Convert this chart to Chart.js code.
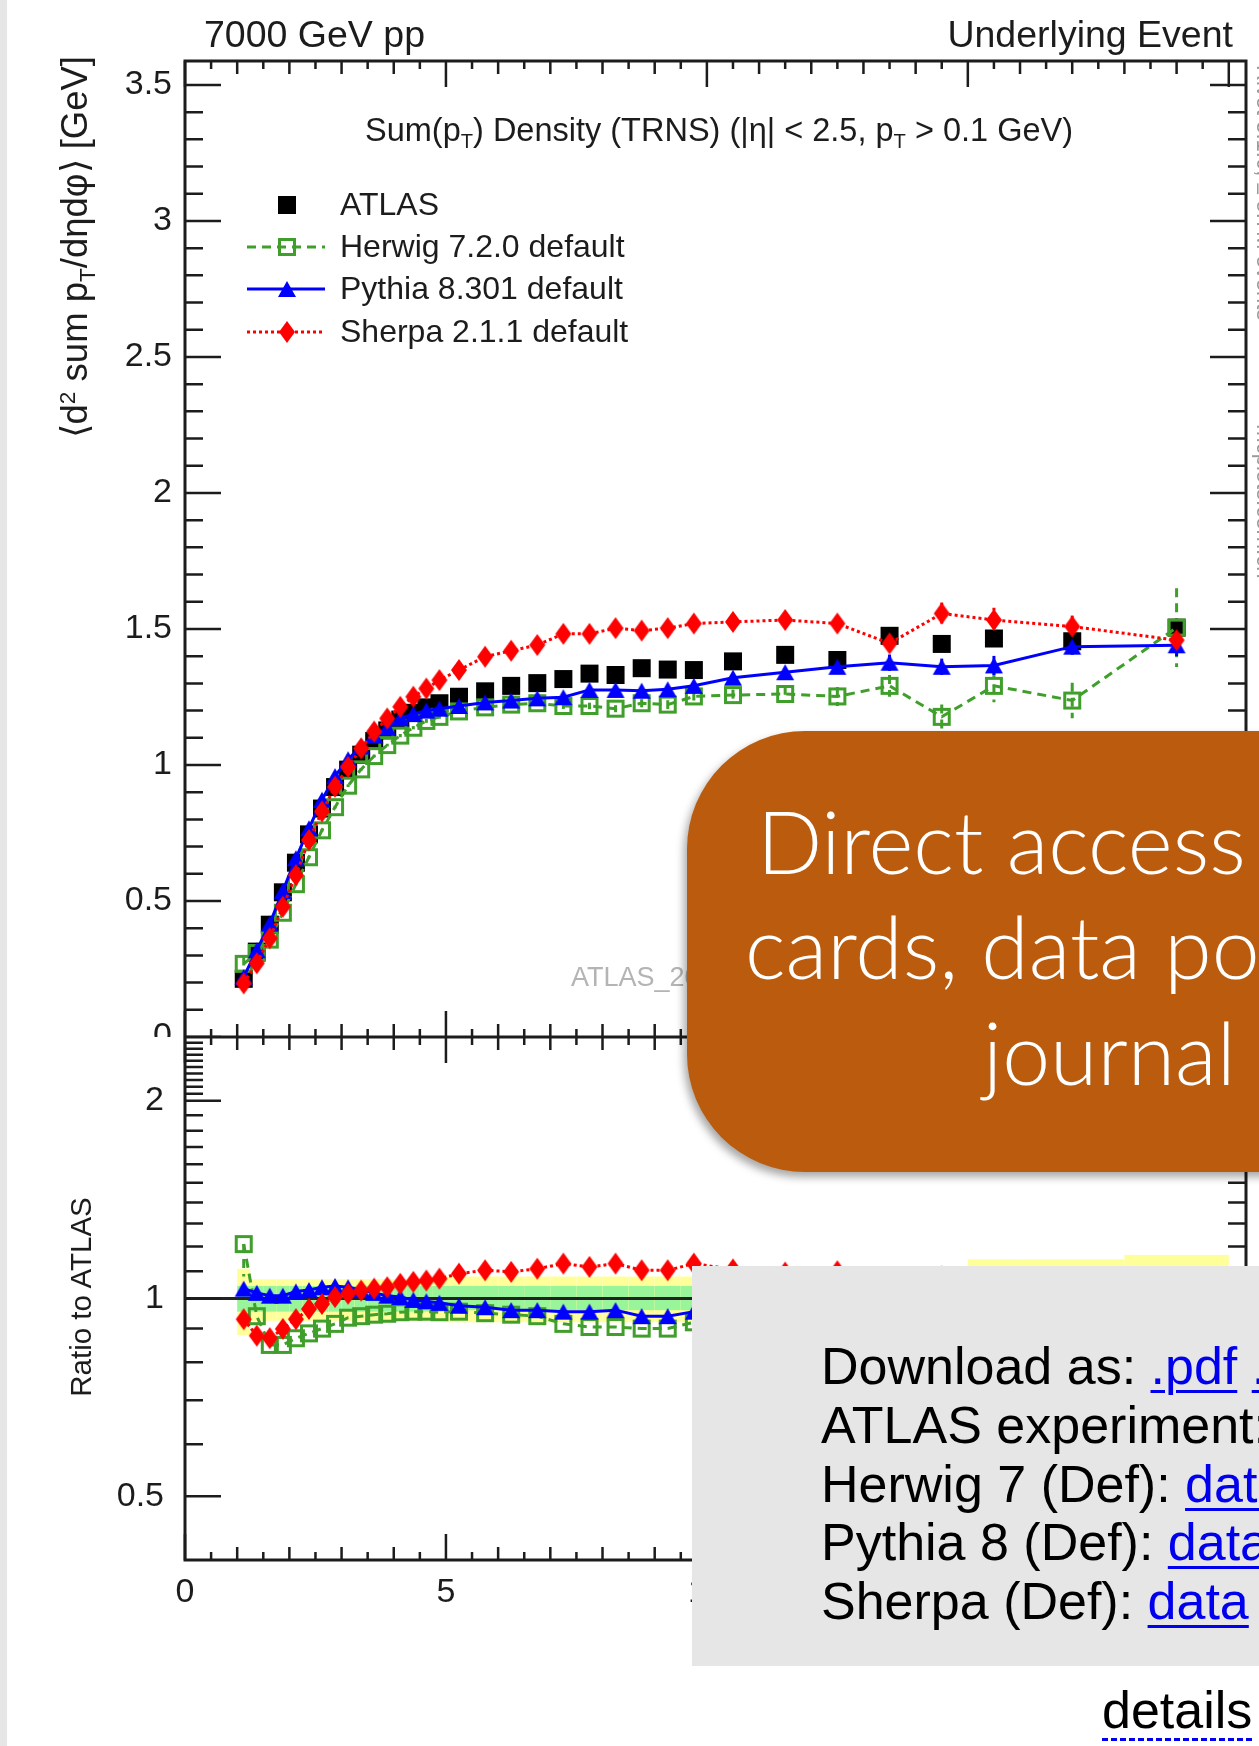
<!DOCTYPE html>
<html>
<head>
<meta charset="utf-8">
<script src="https://cdn.jsdelivr.net/npm/chart.js@4.4.1/dist/chart.umd.min.js"></script>
<style>
  html, body { margin:0; padding:0; background:#fff; }
  body { width:1259px; height:1746px; overflow:hidden; position:relative; font-family:'Liberation Sans', Arial, sans-serif; }
  canvas { position:absolute; left:0; }
  #mainCanvas { top:0; }
  #ratioCanvas { top:1037px; }
  .txt { position:absolute; white-space:nowrap; line-height:1; color:#1c1c1c; }
  .sub { font-size:0.62em; vertical-align:-0.35em; line-height:0; }
  .sup { font-size:0.62em; vertical-align:0.55em; line-height:0; }
  #strip { position:absolute; left:0; top:0; width:7px; height:1746px; background:#e6e6e6; }
  #orange { position:absolute; left:687px; top:731px; width:800px; height:441px; background:#bb5b0d; border-radius:118px; box-shadow:-3px 5px 9px rgba(0,0,0,0.35); }
  .big { position:absolute; white-space:nowrap; color:#fff; font-family:Lato, 'Open Sans', sans-serif; font-weight:300; font-size:86px; line-height:1; }
  #grey { position:absolute; left:692px; top:1266px; width:700px; height:400px; background:#e6e6e6; }
  .dl { position:absolute; left:821px; white-space:nowrap; font-size:52px; line-height:1; color:#000; }
  .dl a { color:#0000ee; text-decoration:underline; text-decoration-thickness:3px; text-underline-offset:6px; }
  #details { position:absolute; left:1102px; top:1684px; font-size:52px; line-height:1; color:#000; white-space:nowrap; border-bottom:3px dashed #0000ee; padding-bottom:2px; }
</style>
</head>
<body>
<div id="strip"></div>
<canvas id="mainCanvas" width="1259" height="1037" style="width:1259px;height:1037px"></canvas>
<canvas id="ratioCanvas" width="1259" height="709" style="width:1259px;height:709px"></canvas>

<div class="txt" style="left:204px;top:16px;font-size:37.5px">7000 GeV pp</div>
<div class="txt" style="right:26px;top:16px;font-size:37.5px">Underlying Event</div>
<div class="txt" style="left:719px;top:114px;font-size:32.5px;transform:translateX(-50%)">Sum(p<span class="sub">T</span>) Density (TRNS) (|η| &lt; 2.5, p<span class="sub">T</span> &gt; 0.1 GeV)</div>
<div class="txt" style="left:57px;top:476px;width:420px;text-align:right;font-size:36.5px;transform-origin:0 0;transform:rotate(-90deg)">⟨d<span class="sup">2</span> sum p<span class="sub">T</span>/dηdφ⟩ [GeV]</div>
<div class="txt" style="left:66px;top:1497px;width:400px;text-align:center;font-size:29.5px;transform-origin:0 0;transform:rotate(-90deg)">Ratio to ATLAS</div>
<div class="txt" style="left:571px;top:964px;font-size:27px;color:#b4b4b4">ATLAS_2010_S8894728</div>
<div class="txt" style="left:1275px;top:65px;font-size:22px;color:#9a9a9a;transform-origin:0 0;transform:rotate(90deg)">Rivet 3.1.0, ≥ 5.7M events &nbsp; &nbsp; &nbsp; &nbsp; &nbsp; &nbsp; &nbsp; &nbsp; mcplots.cern.ch</div>

<div id="orange"></div>
<div class="big" style="left:757px;top:798px">Direct access to run</div>
<div class="big" style="left:745px;top:903px">cards, data points and</div>
<div class="big" style="left:983px;top:1009px">journal links</div>

<div id="grey"></div>
<div class="dl" style="top:1340px">Download as: <a href="#">.pdf</a> <a href="#">.png</a></div>
<div class="dl" style="top:1399px">ATLAS experiment: <a href="#">data</a></div>
<div class="dl" style="top:1458px">Herwig 7 (Def): <a href="#">data</a></div>
<div class="dl" style="top:1516px">Pythia 8 (Def): <a href="#">data</a></div>
<div class="dl" style="top:1575px">Sherpa (Def): <a href="#">data</a></div>
<div id="details">details</div>

<script>
// bins in leading track pT [GeV]
const xCenters = [1.125, 1.375, 1.625, 1.875, 2.125, 2.375, 2.625, 2.875, 3.125, 3.375, 3.625, 3.875, 4.125, 4.375, 4.625, 4.875,
  5.25, 5.75, 6.25, 6.75, 7.25, 7.75, 8.25, 8.75, 9.25, 9.75, 10.5, 11.5, 12.5, 13.5, 14.5, 15.5, 17, 19];
const xEdges = [1, 1.25, 1.5, 1.75, 2, 2.25, 2.5, 2.75, 3, 3.25, 3.5, 3.75, 4, 4.25, 4.5, 4.75, 5,
  5.5, 6, 6.5, 7, 7.5, 8, 8.5, 9, 9.5, 10, 11, 12, 13, 14, 15, 16, 18, 20];

const atlas = [0.214, 0.314, 0.413, 0.532, 0.641, 0.745, 0.84, 0.919, 0.983, 1.038, 1.088, 1.127, 1.167, 1.192, 1.212, 1.227,
  1.251, 1.271, 1.291, 1.301, 1.316, 1.336, 1.331, 1.356, 1.351, 1.349, 1.381, 1.405, 1.386, 1.475, 1.445, 1.465, 1.455, 1.505];
const herwig = [0.269, 0.309, 0.358, 0.457, 0.562, 0.661, 0.76, 0.845, 0.924, 0.984, 1.033, 1.073, 1.108, 1.137, 1.162, 1.177,
  1.197, 1.212, 1.222, 1.227, 1.217, 1.217, 1.207, 1.227, 1.222, 1.252, 1.257, 1.261, 1.252, 1.291, 1.177, 1.291, 1.237, 1.505];
const pythia = [0.221, 0.319, 0.417, 0.537, 0.657, 0.767, 0.872, 0.959, 1.021, 1.068, 1.108, 1.137, 1.172, 1.187, 1.2, 1.207,
  1.217, 1.23, 1.237, 1.245, 1.249, 1.276, 1.276, 1.273, 1.278, 1.291, 1.321, 1.341, 1.361, 1.376, 1.361, 1.366, 1.435, 1.44];
const sherpa = [0.197, 0.271, 0.363, 0.479, 0.595, 0.724, 0.829, 0.92, 0.993, 1.061, 1.123, 1.171, 1.214, 1.251, 1.281, 1.312,
  1.349, 1.398, 1.42, 1.441, 1.482, 1.482, 1.503, 1.494, 1.503, 1.52, 1.526, 1.533, 1.52, 1.447, 1.557, 1.533, 1.509, 1.459];

const herwigErr = [0.027, 0.005, 0.005, 0.005, 0.005, 0.005, 0.005, 0.005, 0.005, 0.005, 0.005, 0.005, 0.006, 0.006, 0.007, 0.007,
  0.008, 0.008, 0.009, 0.01, 0.011, 0.012, 0.013, 0.015, 0.016, 0.018, 0.02, 0.03, 0.035, 0.04, 0.045, 0.06, 0.065, 0.145];
const pythiaErr = [0, 0, 0, 0, 0, 0, 0, 0, 0, 0, 0, 0, 0, 0, 0, 0,
  0.004, 0.004, 0.005, 0.005, 0.006, 0.006, 0.007, 0.008, 0.009, 0.01, 0.01, 0.015, 0.02, 0.03, 0.03, 0.035, 0.03, 0.04];
const sherpaErr = [0, 0, 0, 0, 0, 0, 0, 0, 0, 0, 0, 0, 0, 0, 0, 0,
  0.004, 0.004, 0.005, 0.005, 0.006, 0.006, 0.007, 0.008, 0.009, 0.01, 0.015, 0.02, 0.025, 0.03, 0.04, 0.045, 0.04, 0.045];

// ratio to ATLAS
const herwigRatio = [1.21, 0.94, 0.85, 0.85, 0.87, 0.885, 0.9, 0.915, 0.935, 0.94, 0.945, 0.948, 0.953, 0.955, 0.955, 0.953,
  0.955, 0.95, 0.945, 0.94, 0.915, 0.905, 0.905, 0.9, 0.9, 0.92, 0.905, 0.895, 0.9, 0.875, 0.81, 0.88, 0.85, 1.0];
const pythiaRatio = [1.035, 1.02, 1.01, 1.01, 1.025, 1.03, 1.04, 1.045, 1.04, 1.03, 1.02, 1.01, 1.005, 0.995, 0.99, 0.985,
  0.975, 0.97, 0.96, 0.96, 0.955, 0.955, 0.96, 0.94, 0.94, 0.955, 0.955, 0.955, 0.98, 0.93, 0.94, 0.93, 0.985, 0.955];
const sherpaRatio = [0.93, 0.878, 0.87, 0.899, 0.93, 0.964, 0.981, 1.005, 1.017, 1.028, 1.035, 1.04, 1.053, 1.06, 1.065, 1.072,
  1.091, 1.104, 1.098, 1.11, 1.13, 1.117, 1.13, 1.104, 1.104, 1.13, 1.107, 1.095, 1.1, 0.98, 1.08, 1.05, 1.035, 0.97];
const herwigRatioErrLo = [0.13, 0, 0, 0, 0, 0, 0, 0, 0, 0, 0, 0, 0, 0, 0, 0,
  0, 0, 0, 0, 0, 0, 0, 0, 0, 0, 0.015, 0.02, 0.025, 0.03, 0.03, 0.04, 0.045, 0.1];
const herwigRatioErrHi = [0, 0, 0, 0, 0, 0, 0, 0, 0, 0, 0, 0, 0, 0, 0, 0,
  0, 0, 0, 0, 0, 0, 0, 0, 0, 0, 0.015, 0.02, 0.025, 0.03, 0.03, 0.04, 0.045, 0.1];

// data uncertainty bands in the ratio (total = yellow, stat = green)
const totLo = [0.88, 0.925, 0.925, 0.925, 0.925, 0.925, 0.925, 0.925, 0.925, 0.925, 0.925, 0.925, 0.925, 0.925, 0.925, 0.925,
  0.92, 0.92, 0.92, 0.92, 0.92, 0.92, 0.92, 0.92, 0.92, 0.92, 0.9, 0.9, 0.9, 0.9, 0.9, 0.87, 0.87, 0.86];
const totHi = [1.11, 1.07, 1.07, 1.07, 1.07, 1.07, 1.07, 1.07, 1.07, 1.07, 1.07, 1.07, 1.07, 1.07, 1.07, 1.07,
  1.08, 1.08, 1.08, 1.08, 1.08, 1.08, 1.08, 1.08, 1.08, 1.08, 1.1, 1.1, 1.1, 1.1, 1.1, 1.147, 1.147, 1.165];
const statLo = [0.955, 0.955, 0.955, 0.955, 0.955, 0.955, 0.955, 0.955, 0.955, 0.955, 0.955, 0.955, 0.955, 0.955, 0.955, 0.955,
  0.96, 0.96, 0.96, 0.96, 0.96, 0.96, 0.96, 0.96, 0.96, 0.96, 0.95, 0.95, 0.95, 0.94, 0.94, 0.93, 0.93, 0.92];
const statHi = [1.045, 1.045, 1.045, 1.045, 1.045, 1.045, 1.045, 1.045, 1.045, 1.045, 1.045, 1.045, 1.045, 1.045, 1.045, 1.045,
  1.045, 1.045, 1.045, 1.045, 1.045, 1.045, 1.045, 1.045, 1.045, 1.045, 1.05, 1.05, 1.05, 1.06, 1.06, 1.07, 1.07, 1.08];

const mainYTicks = [0, 0.5, 1, 1.5, 2, 2.5, 3, 3.5];
const ratioYTicks = [0.5, 1, 2];
const xTickLabels = [0, 5, 10, 15, 20];

const GREEN = '#3f9f2a', BLUE = '#0000ff', RED = '#ff0000';

Chart.defaults.font.family = "'Liberation Sans', Arial, sans-serif";
Chart.defaults.color = '#1c1c1c';

function marker(kind, color) {
  const c = document.createElement('canvas');
  c.width = 26; c.height = 26;
  const g = c.getContext('2d');
  g.fillStyle = color; g.strokeStyle = color;
  if (kind === 'square') g.fillRect(4, 4, 18, 18);
  if (kind === 'open') { g.lineWidth = 3; g.strokeRect(5.5, 5.5, 15, 15); }
  if (kind === 'tri') { g.beginPath(); g.moveTo(13, 5); g.lineTo(22, 21); g.lineTo(4, 21); g.closePath(); g.fill(); }
  if (kind === 'diamond') { g.beginPath(); g.moveTo(13, 2); g.lineTo(21, 13); g.lineTo(13, 24); g.lineTo(5, 13); g.closePath(); g.fill(); }
  return c;
}
const mkAtlas = marker('square', '#000');
const mkHerwig = marker('open', GREEN);
const mkPythia = marker('tri', BLUE);
const mkSherpa = marker('diamond', RED);

const pts = arr => xCenters.map((x, i) => ({ x: x, y: arr[i] }));

// fixed axis box, no label overhang padding
function fixBox(w, h) {
  return s => {
    if (w !== null) s.width = w;
    if (h !== null) s.height = h;
    s.paddingTop = 0; s.paddingBottom = 0; s.paddingLeft = 0; s.paddingRight = 0;
  };
}

function frame(yMajor, yMinor) {
  return {
    id: 'frame',
    afterDraw(chart) {
      const { ctx, chartArea: a } = chart;
      const xs = chart.scales.x, ys = chart.scales.y;
      ctx.save();
      ctx.strokeStyle = '#1c1c1c';
      ctx.lineWidth = 2.5;
      ctx.beginPath();
      for (let k = 0; k <= 40; k++) {
        const len = k % 10 === 0 ? 26 : (k % 2 === 0 ? 13 : 8);
        const px = xs.getPixelForValue(k / 2);
        ctx.moveTo(px, a.top); ctx.lineTo(px, a.top + len);
        ctx.moveTo(px, a.bottom); ctx.lineTo(px, a.bottom - len);
      }
      const yt = (v, len) => {
        const py = ys.getPixelForValue(v);
        ctx.moveTo(a.left, py); ctx.lineTo(a.left + len, py);
        ctx.moveTo(a.right, py); ctx.lineTo(a.right - len, py);
      };
      yMajor.forEach(v => yt(v, 36));
      yMinor.forEach(v => yt(v, 18));
      ctx.stroke();
      ctx.lineWidth = 3;
      ctx.strokeRect(a.left, a.top, a.right - a.left, a.bottom - a.top);
      ctx.restore();
    }
  };
}

const errorBars = {
  id: 'errorBars',
  beforeDatasetsDraw(chart) {
    const { ctx, chartArea: a } = chart;
    const xs = chart.scales.x, ys = chart.scales.y;
    ctx.save();
    ctx.beginPath(); ctx.rect(a.left, a.top, a.right - a.left, a.bottom - a.top); ctx.clip();
    chart.data.datasets.forEach(ds => {
      if (!ds.errLo) return;
      ctx.strokeStyle = ds.borderColor;
      ctx.lineWidth = 3;
      ctx.setLineDash(ds.borderDash || []);
      ds.data.forEach((p, i) => {
        const lo = ds.errLo[i], hi = ds.errHi[i];
        if (!lo && !hi) return;
        const px = xs.getPixelForValue(p.x);
        ctx.beginPath();
        ctx.moveTo(px, ys.getPixelForValue(p.y + hi));
        ctx.lineTo(px, ys.getPixelForValue(p.y - lo));
        ctx.stroke();
      });
    });
    ctx.restore();
  }
};

const legendBox = {
  id: 'legendBox',
  afterDatasetsDraw(chart) {
    const ctx = chart.ctx;
    const rows = [205, 247, 289, 332];
    ctx.save();
    ctx.font = "32px 'Liberation Sans'";
    ctx.fillStyle = '#1c1c1c';
    ctx.textBaseline = 'middle';
    chart.data.datasets.forEach((ds, r) => {
      const y = rows[r];
      if (ds.showLine !== false) {
        ctx.strokeStyle = ds.borderColor; ctx.lineWidth = 3; ctx.setLineDash(ds.borderDash || []);
        ctx.beginPath(); ctx.moveTo(247, y); ctx.lineTo(325, y); ctx.stroke();
        ctx.setLineDash([]);
      }
      const m = ds.pointStyle;
      ctx.drawImage(m, 287 - m.width / 2, y - m.height / 2);
      ctx.fillText(ds.label, 340, y + 1);
    });
    ctx.restore();
  }
};

const bands = {
  id: 'bands',
  beforeDatasetsDraw(chart) {
    const { ctx, chartArea: a } = chart;
    const xs = chart.scales.x, ys = chart.scales.y;
    ctx.save();
    ctx.beginPath(); ctx.rect(a.left, a.top, a.right - a.left, a.bottom - a.top); ctx.clip();
    for (let i = 0; i < xCenters.length; i++) {
      const x1 = xs.getPixelForValue(xEdges[i]), x2 = xs.getPixelForValue(xEdges[i + 1]);
      ctx.fillStyle = '#ffff99';
      const t1 = ys.getPixelForValue(totHi[i]), t2 = ys.getPixelForValue(totLo[i]);
      ctx.fillRect(x1, t1, x2 - x1, t2 - t1);
      ctx.fillStyle = '#99f599';
      const s1 = ys.getPixelForValue(statHi[i]), s2 = ys.getPixelForValue(statLo[i]);
      ctx.fillRect(x1, s1, x2 - x1, s2 - s1);
    }
    const p1 = ys.getPixelForValue(1);
    ctx.strokeStyle = '#222'; ctx.lineWidth = 3;
    ctx.beginPath(); ctx.moveTo(a.left, p1); ctx.lineTo(a.right, p1); ctx.stroke();
    ctx.restore();
  }
};

const mainMinor = [];
for (let k = 1; k <= 35; k++) if (k % 5 !== 0) mainMinor.push(k / 10);
const ratioMinor = [0.6, 0.7, 0.8, 0.9, 1.1, 1.2, 1.3, 1.4, 1.5, 1.6, 1.7, 1.8, 1.9,
  2.05, 2.1, 2.15, 2.2, 2.25, 2.3, 2.35, 2.4, 2.45];

new Chart(document.getElementById('mainCanvas').getContext('2d'), {
  type: 'line',
  data: {
    datasets: [
      { label: 'ATLAS', data: pts(atlas), showLine: false, borderColor: '#000', pointStyle: mkAtlas, pointRadius: 9, order: 3 },
      { label: 'Herwig 7.2.0 default', data: pts(herwig), borderColor: GREEN, borderWidth: 3, borderDash: [9, 6],
        pointStyle: mkHerwig, pointRadius: 9, fill: false, tension: 0, order: 2, errLo: herwigErr, errHi: herwigErr },
      { label: 'Pythia 8.301 default', data: pts(pythia), borderColor: BLUE, borderWidth: 3,
        pointStyle: mkPythia, pointRadius: 9, fill: false, tension: 0, order: 1, errLo: pythiaErr, errHi: pythiaErr },
      { label: 'Sherpa 2.1.1 default', data: pts(sherpa), borderColor: RED, borderWidth: 3, borderDash: [3, 3],
        pointStyle: mkSherpa, pointRadius: 9, fill: false, tension: 0, order: 0, errLo: sherpaErr, errHi: sherpaErr }
    ]
  },
  options: {
    responsive: false,
    animation: false,
    events: [],
    layout: { autoPadding: false, padding: { left: 0, top: 61, right: 13, bottom: 0 } },
    plugins: { legend: { display: false }, tooltip: { enabled: false } },
    scales: {
      x: { type: 'linear', min: 0, max: 20.33, display: false, afterFit: fixBox(null, 0) },
      y: {
        type: 'linear', min: 0, max: 3.588,
        afterFit: fixBox(185, null),
        afterBuildTicks: s => { s.ticks = mainYTicks.map(v => ({ value: v })); },
        grid: { display: false, drawTicks: false },
        border: { display: false },
        ticks: { autoSkip: false, padding: 13, font: { size: 34 }, color: '#1c1c1c', callback: v => String(v) }
      }
    }
  },
  plugins: [errorBars, legendBox, frame(mainYTicks, mainMinor)]
});

new Chart(document.getElementById('ratioCanvas').getContext('2d'), {
  type: 'line',
  data: {
    datasets: [
      { label: 'Herwig 7.2.0 default', data: pts(herwigRatio), borderColor: GREEN, borderWidth: 3, borderDash: [9, 6],
        pointStyle: mkHerwig, pointRadius: 9, fill: false, tension: 0, order: 2, errLo: herwigRatioErrLo, errHi: herwigRatioErrHi },
      { label: 'Pythia 8.301 default', data: pts(pythiaRatio), borderColor: BLUE, borderWidth: 3,
        pointStyle: mkPythia, pointRadius: 9, fill: false, tension: 0, order: 1 },
      { label: 'Sherpa 2.1.1 default', data: pts(sherpaRatio), borderColor: RED, borderWidth: 3, borderDash: [3, 3],
        pointStyle: mkSherpa, pointRadius: 9, fill: false, tension: 0, order: 0 }
    ]
  },
  options: {
    responsive: false,
    animation: false,
    events: [],
    layout: { autoPadding: false, padding: { left: 0, top: 0, right: 13, bottom: 0 } },
    plugins: { legend: { display: false }, tooltip: { enabled: false } },
    scales: {
      x: {
        type: 'linear', min: 0, max: 20.33,
        afterFit: fixBox(null, 186),
        afterBuildTicks: s => { s.ticks = xTickLabels.map(v => ({ value: v })); },
        grid: { display: false, drawTicks: false },
        border: { display: false },
        ticks: { autoSkip: false, maxRotation: 0, padding: 12, font: { size: 34 }, color: '#1c1c1c', callback: v => String(v) }
      },
      y: {
        type: 'logarithmic', min: 0.4, max: 2.5,
        afterFit: fixBox(185, null),
        afterBuildTicks: s => { s.ticks = ratioYTicks.map(v => ({ value: v })); },
        grid: { display: false, drawTicks: false },
        border: { display: false },
        ticks: { autoSkip: false, padding: 21, font: { size: 34 }, color: '#1c1c1c', callback: v => String(v) }
      }
    }
  },
  plugins: [bands, errorBars, frame(ratioYTicks, ratioMinor)]
});
</script>
</body>
</html>
